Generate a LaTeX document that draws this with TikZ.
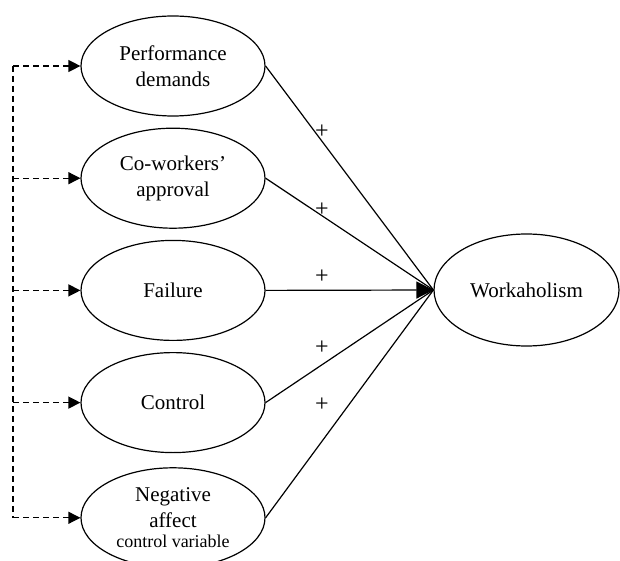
\documentclass[tikz,border=0pt]{standalone}
\usepackage{fontspec}
\setmainfont{Liberation Serif}
\usetikzlibrary{positioning,arrows.meta,shapes.geometric}
\tikzset{
	>={Triangle[length=6pt,width=6pt]}
}

\begin{document}
\begin{tikzpicture}[
x = 0.5pt,
y = 0.5pt,
node distance = 5.5pt,
every node/.style = {
	font = \fontsize{10.5}{13}\selectfont
},
factor/.style = {
	draw,
	ellipse,
	line width = 0.6pt,
	inner sep = 0pt,
	align = center,
	minimum width = 92pt,
	minimum height = 50pt
},
effect/.style = {
	line width = 0.6pt
},
link/.style = {
	line width = 0.6pt,
	dash pattern = on 3pt off 2pt
},
sign/.style = {
	inner sep = 0pt,
	font = \fontsize{12}{12}\selectfont
}
]

\useasboundingbox (0,0) rectangle (620,-561);

\node (perf) [factor] at (173,-66) {Performance\\demands};
\node (cowork) [factor, below = of perf] {Co-workers'\\approval};
\node (fail) [factor, below = of cowork] {Failure};
\node (ctrl) [factor, below = of fail] {Control};
\node (neg) [factor, below = 7pt of ctrl] {Negative\\affect\\[-3pt]{\fontsize{9}{10.5}\selectfont control variable}};

\node (work) [factor, minimum width = 92.5pt, minimum height = 56pt] at (526.5,-290) {Workaholism};

% paths into workaholism
\draw[effect] (perf.east) -- (work.west);
\draw[effect] (cowork.east) -- (work.west);
\draw[effect, -{Triangle[length=8.5pt,width=8.5pt]}] (fail.east) -- (work.west);
\draw[effect] (ctrl.east) -- (work.west);
\draw[effect] (neg.east) -- (work.west);

\node (s1) [sign] at (322,-132) {+};
\node (s2) [sign] at (322,-210) {+};
\node (s3) [sign] at (322,-277) {+};
\node (s4) [sign] at (322,-348) {+};
\node (s5) [sign] at (322,-405) {+};

% dashed correlations
\coordinate (bus) at (13,-66);
\draw[link] (bus) -- (bus |- neg.west);
\foreach \n in {perf,cowork,fail,ctrl,neg}
	\draw[link, ->] (bus |- \n.west) -- (\n.west);

\end{tikzpicture}
\end{document}
